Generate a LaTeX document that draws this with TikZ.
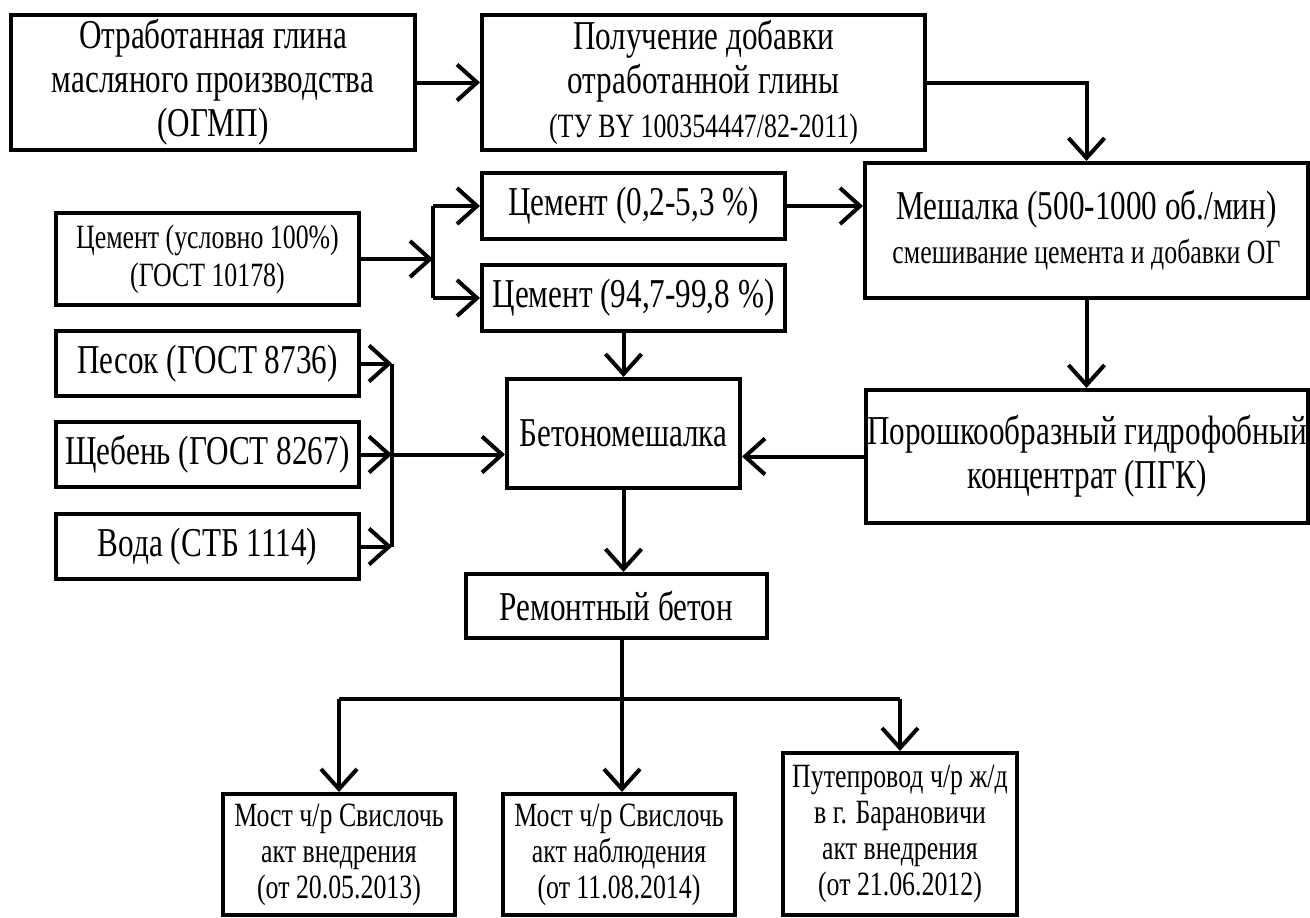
\documentclass[tikz,border=0pt]{standalone}
\usepackage{fontspec}
\setmainfont{Liberation Serif}[FakeStretch=0.76]
\usetikzlibrary{arrows.meta}
\newcommand\fbig{\fontsize{41}{44}\selectfont}
\newcommand\fmid{\fontsize{34}{38}\selectfont}
\newcommand\fsml{\fontsize{34}{36}\selectfont}
\tikzset{
  box/.style={draw, line width=4pt, inner sep=0pt, align=center},
  arr/.style={line width=4pt, -{Straight Barb[length=20pt,width=36pt,line width=4pt]}},
  ln/.style={line width=4pt},
}
\begin{document}
\begin{tikzpicture}[x=1pt,y=-1pt]
\useasboundingbox (0,0) rectangle (1310,918);
% nodes
\node[box, font=\fbig, minimum width=404pt, minimum height=135pt] (b1) at (213,82.5)
  {Отработанная глина\\ масляного производства\\ (ОГМП)};
\node[box, font=\fbig, minimum width=443pt, minimum height=135pt] (b2) at (703.5,82.5)
  {Получение добавки\\ отработанной глины\\ {\fmid (ТУ BY 100354447/82-2011)}};
\node[box, font=\fbig, minimum width=303pt, minimum height=66pt] (c02) at (633.5,206)
  {Цемент (0,2-5,3 \%)};
\node[box, font=\fbig, minimum width=303pt, minimum height=66pt] (c947) at (633.5,298)
  {Цемент (94,7-99,8 \%)};
\node[box, font=\fbig, minimum width=443pt, minimum height=135pt] (mix) at (1086.5,230.5)
  {Мешалка (500-1000 об./мин)\\ {\fmid смешивание цемента и добавки ОГ}};
\node[box, font=\fmid, minimum width=303pt, minimum height=92pt] (c100) at (207.5,259)
  {Цемент (условно 100\%)\\ (ГОСТ 10178)};
\node[box, font=\fbig, minimum width=303pt, minimum height=65pt] (sand) at (207.5,363.5)
  {Песок (ГОСТ 8736)};
\node[box, font=\fbig, minimum width=303pt, minimum height=65pt] (grav) at (207.5,454.5)
  {Щебень (ГОСТ 8267)};
\node[box, font=\fbig, minimum width=303pt, minimum height=65pt] (water) at (207.5,546.5)
  {Вода (СТБ 1114)};
\node[box, font=\fbig, minimum width=233pt, minimum height=109pt] (beton) at (623.5,433.5)
  {Бетономешалка};
\node[box, font=\fbig, minimum width=442pt, minimum height=133pt] (pgk) at (1087,456.5)
  {Порошкообразный гидрофобный\\ концентрат (ПГК)};
\node[box, font=\fbig, minimum width=301pt, minimum height=64pt] (rem) at (616.5,606)
  {Ремонтный бетон};
\node[box, font=\fsml, minimum width=232pt, minimum height=121pt] (m1) at (339,854.5)
  {Мост ч/р Свислочь\\ акт внедрения\\ (от 20.05.2013)};
\node[box, font=\fsml, minimum width=232pt, minimum height=121pt] (m2) at (619,854.5)
  {Мост ч/р Свислочь\\ акт наблюдения\\ (от 11.08.2014)};
\node[box, font=\fsml, minimum width=234pt, minimum height=162pt] (put) at (900,834)
  {Путепровод ч/р ж/д\\ в г. Барановичи\\ акт внедрения\\ (от 21.06.2012)};
% helper coordinates
\coordinate (sp) at (433,259);
\coordinate (col) at (392,455);
\coordinate (br) at (622,699);
% connectors
\draw[arr] (b1.east) -- (b2.west);
\draw[arr] (b2.east) -| (mix.north);
\draw[arr] (c100.east) -- (c100.east -| sp);
\draw[ln] (c02.west -| sp) -- (c947.west -| sp);
\draw[arr] (c02.west -| sp) -- (c02.west);
\draw[arr] (c947.west -| sp) -- (c947.west);
\draw[arr] (c02.east) -- (c02.east -| mix.west);
\draw[arr] (mix.south) -- (mix.south |- pgk.north);
\draw[arr] (pgk.west) -- (pgk.west -| beton.east);
\draw[arr] (beton.north |- c947.south) -- (beton.north);
\draw[arr] (sand.east) -- (sand.east -| col);
\draw[arr] (grav.east) -- (grav.east -| col);
\draw[arr] (water.east) -- (water.east -| col);
\draw[ln] (sand.east -| col) -- (water.east -| col);
\draw[arr] (grav.east -| col) -- (grav.east -| beton.west);
\draw[arr] (beton.south) -- (beton.south |- rem.north);
\draw[ln] (br |- rem.south) -- (br);
\draw[ln] (m1.north |- br) -- (put.north |- br);
\draw[arr] (m1.north |- br) -- (m1.north);
\draw[arr] (br) -- (br |- m2.north);
\draw[arr] (put.north |- br) -- (put.north);
\end{tikzpicture}
\end{document}
